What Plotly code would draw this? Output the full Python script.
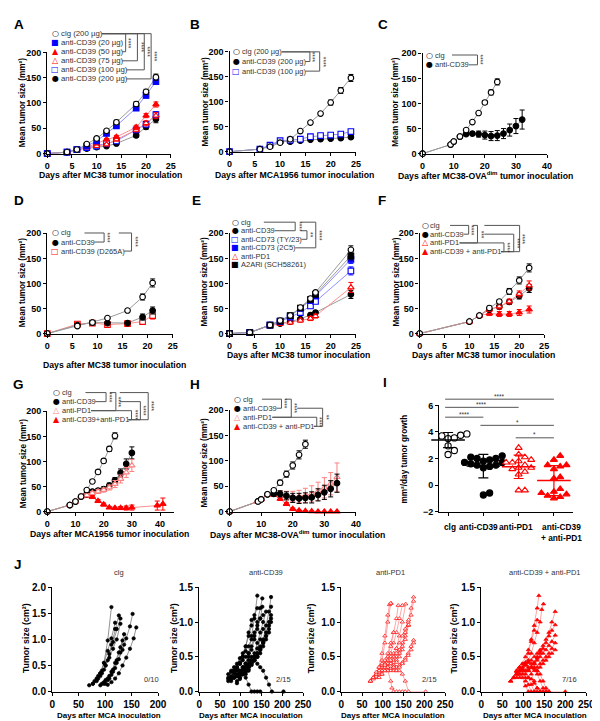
import statistics
import plotly.graph_objects as go

# ======================= DATA =======================
# Panel A  (MC38, anti-CD39 dose)
A_days = [0, 4, 6, 8, 10, 12, 14, 18, 20, 22]
A_clg = [0, 3, 8, 19, 30, 45, 62, 98, 122, 151]
A_clg_err = [0, 1, 1, 2, 2, 3, 4, 5, 5, 6]
A_cd39_20 = [0, 3, 8, 15, 25, 40, 55, 90, 115, 142]
A_cd39_20_err = [0, 1, 1, 2, 2, 3, 3, 4, 5, 5]
A_cd39_50 = [0, 3, 8, 13, 20, 28, 33, 52, 75, 97]
A_cd39_50_err = [0, 1, 1, 2, 2, 2, 3, 4, 4, 5]
A_cd39_75 = [0, 3, 8, 12, 15, 18, 28, 47, 60, 75]
A_cd39_75_err = [0, 1, 1, 2, 2, 2, 3, 4, 5, 6]
A_cd39_100 = [0, 3, 8, 12, 15, 20, 25, 47, 58, 77]
A_cd39_100_err = [0, 1, 1, 2, 2, 2, 3, 4, 5, 6]
A_cd39_200 = [0, 3, 8, 10, 13, 15, 20, 36, 53, 68]
A_cd39_200_err = [0, 1, 1, 1, 2, 2, 3, 4, 5, 7]

# Panel B  (MCA1956)
B_days = [0, 6, 8, 10, 12, 14, 16, 18, 20, 22, 24]
B_clg = [0, 5, 10, 18, 25, 41, 58, 76, 98, 122, 147]
B_clg_err = [0, 1, 1, 2, 2, 3, 3, 4, 5, 6, 7]
B_cd39_200 = [0, 5, 12, 20, 20, 22, 24, 25, 26, 27, 29]
B_cd39_200_err = [0, 1, 1, 2, 2, 2, 2, 2, 2, 3, 3]
B_cd39_100 = [0, 5, 13, 22, 23, 25, 30, 32, 33, 35, 40]
B_cd39_100_err = [0, 1, 1, 2, 2, 2, 3, 3, 3, 4, 4]

# Panel C  (MC38-OVAdim)
C_clg_days = [0, 9, 10, 12, 14, 16, 18, 20, 22, 24]
C_clg = [0, 18, 24, 34, 47, 63, 81, 102, 122, 143]
C_clg_err = [0, 2, 2, 2, 3, 3, 3, 4, 5, 6]
C_cd39_days = [0, 9, 10, 12, 14, 16, 18, 20, 22, 24, 26, 28, 30, 32]
C_cd39 = [0, 18, 24, 34, 39, 40, 39, 37, 35, 36, 40, 47, 55, 68]
C_cd39_err = [0, 2, 2, 2, 3, 4, 6, 8, 9, 10, 10, 12, 15, 19]

# Panel D  (MC38, Fc mutant)
D_days = [0, 6, 9, 12, 16, 19, 21]
D_clg = [0, 15, 22, 31, 46, 73, 101]
D_clg_err = [0, 2, 2, 2, 4, 6, 8]
D_cd39 = [0, 17, 22, 21, 21, 33, 46]
D_cd39_err = [0, 2, 2, 2, 3, 6, 7]
D_d265a = [0, 19, 21, 18, 20, 24, 36]
D_d265a_err = [0, 2, 2, 2, 3, 5, 7]

# Panel E  (MC38, adenosine pathway)
E_days = [0, 4, 8, 10, 12, 14, 16, 17, 24]
E_clg = [0, 2, 17, 26, 36, 52, 70, 82, 167]
E_clg_err = [0, 1, 2, 2, 3, 3, 4, 4, 8]
E_cd39 = [0, 2, 17, 20, 24, 29, 37, 42, 78]
E_cd39_err = [0, 1, 2, 2, 3, 3, 4, 4, 8]
E_ty23 = [0, 2, 17, 24, 33, 42, 55, 64, 125]
E_ty23_err = [0, 1, 2, 2, 3, 3, 4, 4, 8]
E_2c5 = [0, 2, 17, 25, 35, 50, 66, 75, 148]
E_2c5_err = [0, 1, 2, 2, 3, 3, 4, 4, 8]
E_pd1 = [0, 2, 16, 19, 22, 26, 30, 35, 92]
E_pd1_err = [0, 1, 2, 2, 3, 3, 4, 4, 10]
E_a2ar = [0, 2, 17, 25, 36, 51, 68, 78, 155]
E_a2ar_err = [0, 1, 2, 2, 3, 3, 4, 4, 8]

# Panel F  (MC38, anti-CD39 + anti-PD1)
F_days = [0, 10, 12, 14, 16, 18, 20, 22]
F_clg = [0, 24, 36, 51, 64, 84, 106, 131]
F_clg_err = [0, 2, 2, 4, 4, 6, 7, 8]
F_cd39 = [0, 24, 36, 48, 54, 63, 75, 90]
F_cd39_err = [0, 2, 2, 4, 5, 5, 6, 8]
F_pd1 = [0, 24, 36, 48, 54, 64, 79, 96]
F_pd1_err = [0, 2, 2, 4, 5, 5, 6, 9]
F_combo = [0, 24, 36, 40, 39, 39, 42, 48]
F_combo_err = [0, 2, 2, 4, 5, 5, 6, 7]

# Panel G  (MCA1956, combination)
G_clg_days = [0, 8, 10, 12, 14, 16, 18, 20, 22, 24]
G_clg = [0, 13, 20, 30, 43, 60, 79, 101, 125, 151]
G_clg_err = [0, 1, 2, 2, 3, 3, 4, 4, 5, 6]
G_days = [0, 8, 10, 12, 14, 16, 18, 20, 22, 24, 26, 28, 30]
G_cd39 = [0, 13, 20, 30, 35, 40, 42, 45, 52, 62, 77, 95, 117]
G_cd39_err = [0, 1, 2, 2, 3, 3, 3, 4, 5, 6, 8, 10, 12]
G_pd1 = [0, 13, 20, 30, 33, 37, 40, 43, 48, 55, 65, 78, 92]
G_pd1_err = [0, 1, 2, 2, 3, 3, 4, 4, 5, 7, 8, 10, 12]
G_combo_days = [0, 8, 10, 12, 14, 16, 18, 20, 22, 24, 26, 28, 30, 39, 41]
G_combo = [0, 13, 20, 30, 32, 29, 21, 14, 8, 7, 7, 7, 8, 12, 15]
G_combo_err = [0, 1, 2, 2, 3, 3, 3, 3, 2, 2, 3, 4, 5, 9, 12]

# Panel H  (MC38-OVAdim, combination)
H_clg_days = [0, 9, 10, 12, 14, 16, 18, 20, 22, 24]
H_clg = [0, 20, 24, 34, 42, 57, 74, 91, 112, 133]
H_clg_err = [0, 2, 2, 2, 3, 5, 6, 7, 8, 8]
H_days = [0, 9, 10, 12, 14, 16, 18, 20, 22, 24, 26, 28, 30, 32, 34]
H_cd39 = [0, 20, 24, 34, 35, 35, 31, 27, 26, 27, 28, 33, 38, 45, 56]
H_cd39_err = [0, 2, 2, 2, 4, 6, 8, 9, 10, 10, 11, 12, 14, 16, 18]
H_pd1 = [0, 20, 24, 34, 35, 35, 32, 30, 30, 32, 35, 40, 47, 55, 68]
H_pd1_err = [0, 2, 2, 2, 4, 6, 8, 10, 12, 14, 16, 18, 20, 22, 28]
H_combo = [0, 20, 24, 34, 33, 25, 15, 5, 2, 1, 0.5, 0, 0, 0, 0]
H_combo_err = [0, 2, 2, 2, 3, 3, 3, 2, 1, 1, 0, 0, 0, 0, 0]

# Panel I  (growth rate, mm2/day)
I_categories = ["clg", "anti-CD39", "anti-PD1", "anti-CD39<br>+ anti-PD1"]
I_clg = [3.9, 3.8, 3.75, 3.7, 3.85, 3.5, 3.55, 2.95, 2.6, 2.3]
I_cd39 = [2.2, 2.1, 2.0, 1.9, 1.8, 1.7, 1.6, 1.5, 1.5, 1.4, 1.3, 1.7, 2.0, -0.75, -0.6]
I_pd1 = [2.8, 2.3, 2.1, 1.9, 1.8, 1.7, 1.7, 1.5, 1.3, 1.2, 1.0, 1.3, 0.8, -0.4, -0.4]
I_combo = [2.2, 1.9, 1.5, 1.5, 1.4, 1.2, 0.6, 0.5, -0.3, -0.5, -0.6, -0.6, -0.7, -0.8, -0.9, -1.0]

# Panel J  (individual MCA-induced tumours, cm2)
J_clg_days = [[70, 77, 84, 91, 98, 105, 112], [77, 84, 91, 98, 105, 112, 119, 126],
              [80, 87, 94, 101, 108, 115, 122, 129], [84, 91, 98, 105, 112, 119],
              [98, 105, 112, 119, 126, 133, 140, 147, 152], [105, 112, 119, 126, 133, 140, 147, 154, 159],
              [87, 94, 101, 108, 115, 122, 129], [94, 101, 108, 115, 122, 129, 136],
              [91, 98, 105, 112, 119, 126, 133], [101, 108, 115, 122, 129, 136]]
J_clg_size = [[0.12, 0.15, 0.22, 0.35, 0.55, 0.98, 1.62], [0.15, 0.2, 0.3, 0.42, 0.6, 0.9, 1.2, 1.46],
              [0.2, 0.25, 0.35, 0.5, 0.72, 0.95, 1.2, 1.4], [0.25, 0.35, 0.55, 0.78, 1.02, 1.32],
              [0.15, 0.22, 0.32, 0.45, 0.62, 0.8, 1.02, 1.25, 1.49], [0.13, 0.18, 0.25, 0.35, 0.5, 0.65, 0.82, 1.02, 1.23],
              [0.3, 0.4, 0.5, 0.65, 0.82, 1.0, 1.3], [0.15, 0.22, 0.3, 0.42, 0.6, 0.85, 1.1],
              [0.12, 0.18, 0.25, 0.38, 0.55, 0.75, 0.98], [0.15, 0.25, 0.38, 0.55, 0.75, 0.9]]

J_cd39_days = [[70, 77, 84, 91, 98, 105, 112, 119, 126, 133, 140],
               [70, 77, 84, 91, 98, 105, 112, 119, 126],
               [77, 84, 91, 98, 105, 112, 119, 126, 133, 140, 147, 154, 161, 168, 173],
               [84, 91, 98, 105, 112, 119, 126, 133, 140, 147, 152],
               [91, 98, 105, 112, 119, 126, 133, 140, 147, 154, 161, 168, 173],
               [98, 105, 112, 119, 126, 133, 140, 147, 154, 161, 168, 173],
               [70, 77, 84, 91, 98, 105, 112, 119, 126, 133, 140, 147, 152],
               [84, 91, 98, 105, 112, 119, 126, 133, 140, 147, 154],
               [105, 112, 119, 126, 133, 140, 147, 154, 161, 168, 173],
               [112, 119, 126, 133, 140, 147, 154, 161, 168, 173],
               [77, 84, 91, 98, 105, 112, 119, 126, 133, 140, 147],
               [98, 105, 112, 119, 126, 133, 140, 147, 154, 161, 168, 175, 203],
               [70, 77, 84, 91, 98, 105, 112, 119, 126, 133, 140],
               [91, 98, 105, 112, 119, 126, 133, 140, 147, 154, 161],
               [112, 119, 126, 133, 140, 147, 154]]
J_cd39_size = [[0.15, 0.18, 0.2, 0.22, 0.25, 0.3, 0.4, 0.55, 0.8, 1.05, 1.38],
               [0.18, 0.22, 0.28, 0.33, 0.4, 0.5, 0.65, 0.85, 1.03],
               [0.15, 0.2, 0.22, 0.25, 0.28, 0.32, 0.35, 0.4, 0.45, 0.5, 0.6, 0.75, 0.95, 1.15, 1.36],
               [0.2, 0.25, 0.3, 0.35, 0.4, 0.5, 0.6, 0.75, 0.9, 1.05, 1.22],
               [0.15, 0.2, 0.25, 0.28, 0.32, 0.38, 0.45, 0.5, 0.6, 0.7, 0.85, 1.0, 1.22],
               [0.2, 0.25, 0.3, 0.35, 0.42, 0.5, 0.55, 0.62, 0.7, 0.8, 0.95, 1.1],
               [0.2, 0.28, 0.3, 0.35, 0.4, 0.45, 0.5, 0.55, 0.65, 0.8, 1.0, 1.2, 1.34],
               [0.3, 0.35, 0.42, 0.5, 0.58, 0.65, 0.75, 0.85, 0.95, 1.05, 1.1],
               [0.3, 0.35, 0.38, 0.42, 0.45, 0.5, 0.55, 0.65, 0.75, 0.85, 1.05],
               [0.35, 0.4, 0.45, 0.5, 0.55, 0.65, 0.72, 0.8, 0.9, 1.0],
               [0.2, 0.25, 0.3, 0.28, 0.25, 0.2, 0.1, 0, 0, 0, 0],
               [0.3, 0.35, 0.4, 0.45, 0.5, 0.45, 0.4, 0.35, 0.3, 0.2, 0.1, 0, 0],
               [0.25, 0.3, 0.35, 0.4, 0.48, 0.55, 0.65, 0.8, 0.95, 1.1, 1.2],
               [0.12, 0.18, 0.25, 0.3, 0.38, 0.45, 0.55, 0.7, 0.85, 1.0, 1.15],
               [0.25, 0.3, 0.4, 0.5, 0.62, 0.75, 0.9]]

J_pd1_days = [[70, 77, 84, 91, 98, 105, 112, 116, 120], [77, 84, 91, 98, 105, 112, 119],
              [84, 91, 98, 105, 112, 119, 126, 133, 137], [91, 98, 105, 112, 119, 126, 133, 140, 147],
              [98, 105, 112, 119, 126, 133, 140, 147, 155], [105, 112, 119, 126, 133, 140, 147, 154, 161, 168, 174],
              [112, 119, 126, 133, 140, 147, 154, 161, 168, 174], [98, 105, 112, 119, 126, 133, 140, 147, 154, 162],
              [119, 126, 133, 140, 147, 154, 162], [126, 133, 140, 147, 154, 161, 168, 174],
              [133, 140, 147, 154, 161, 168, 174], [70, 77, 84, 91, 98, 105, 112, 119, 126, 133, 140],
              [84, 91, 98, 105, 112, 119, 126],
              [70, 77, 84, 91, 98, 105, 112, 119, 122, 126, 133, 140, 147, 154],
              [91, 98, 105, 112, 119, 126, 133, 140, 147, 154, 162, 203]]
J_pd1_size = [[0.15, 0.2, 0.25, 0.35, 0.55, 0.8, 1.1, 1.25, 1.27], [0.18, 0.22, 0.3, 0.45, 0.7, 1.0, 1.27],
              [0.2, 0.25, 0.3, 0.4, 0.5, 0.65, 0.85, 1.05, 1.24], [0.3, 0.35, 0.4, 0.45, 0.55, 0.7, 0.85, 1.05, 1.24],
              [0.25, 0.3, 0.35, 0.42, 0.5, 0.62, 0.8, 1.0, 1.26], [0.3, 0.35, 0.4, 0.45, 0.5, 0.6, 0.7, 0.85, 1.0, 1.2, 1.36],
              [0.3, 0.33, 0.38, 0.45, 0.55, 0.65, 0.8, 0.95, 1.1, 1.3], [0.35, 0.4, 0.45, 0.5, 0.55, 0.62, 0.7, 0.8, 0.9, 1.03],
              [0.3, 0.35, 0.42, 0.5, 0.6, 0.75, 0.96], [0.3, 0.35, 0.38, 0.42, 0.48, 0.55, 0.65, 0.74],
              [0.3, 0.35, 0.4, 0.45, 0.52, 0.6, 0.7], [0.15, 0.2, 0.22, 0.28, 0.3, 0.35, 0.4, 0.45, 0.5, 0.55, 0.6],
              [0.25, 0.3, 0.38, 0.45, 0.55, 0.7, 0.85],
              [0.15, 0.2, 0.28, 0.35, 0.4, 0.38, 0.3, 0.15, 0.05, 0, 0, 0, 0, 0],
              [0.2, 0.25, 0.3, 0.35, 0.4, 0.35, 0.3, 0.3, 0.25, 0.15, 0, 0]]

J_combo_days = [[84, 91, 98, 105, 112, 119, 126, 133, 137], [91, 98, 105, 112, 119, 126, 133, 140, 144, 148],
                [84, 91, 98, 105, 112, 119, 126, 133], [112, 119, 126, 133, 140, 147, 154, 161, 168, 176],
                [105, 112, 119, 126, 133, 140, 147, 154, 161, 168, 176], [119, 126, 133, 140, 147, 154, 161, 168, 176],
                [126, 133, 140, 147, 154, 161, 168, 176], [133, 140, 147, 154, 161, 168, 176],
                [70, 77, 84, 91, 98, 105, 112, 119, 126, 133, 140], [70, 77, 84, 91, 98, 105, 112],
                [77, 84, 91, 98, 105, 112, 119, 126], [84, 91, 98, 105, 112, 119, 126, 133, 140],
                [70, 77, 84, 91, 98, 105, 112, 119, 126, 133, 140, 147, 154],
                [91, 98, 105, 112, 119, 126, 133, 140, 147, 154, 161, 200],
                [98, 105, 112, 119, 126, 133, 140, 147, 154, 161], [105, 112, 119, 126, 133, 140, 147, 154, 161]]
J_combo_size = [[0.2, 0.25, 0.3, 0.4, 0.55, 0.75, 0.95, 1.2, 1.38], [0.25, 0.3, 0.38, 0.45, 0.55, 0.7, 0.85, 1.0, 1.18, 1.26],
                [0.3, 0.35, 0.4, 0.5, 0.6, 0.72, 0.88, 1.03], [0.3, 0.35, 0.42, 0.5, 0.58, 0.66, 0.75, 0.85, 1.0, 1.15],
                [0.25, 0.3, 0.35, 0.4, 0.48, 0.55, 0.62, 0.7, 0.8, 0.88, 0.96], [0.35, 0.4, 0.45, 0.5, 0.55, 0.6, 0.66, 0.72, 0.81],
                [0.3, 0.35, 0.4, 0.45, 0.5, 0.55, 0.62, 0.7], [0.3, 0.35, 0.4, 0.45, 0.5, 0.55, 0.6],
                [0.15, 0.2, 0.25, 0.3, 0.35, 0.38, 0.42, 0.45, 0.5, 0.55, 0.6], [0.15, 0.2, 0.25, 0.3, 0.2, 0.08, 0],
                [0.2, 0.3, 0.35, 0.3, 0.2, 0.1, 0, 0], [0.25, 0.3, 0.32, 0.3, 0.2, 0.1, 0, 0, 0],
                [0.15, 0.2, 0.28, 0.35, 0.4, 0.42, 0.35, 0.25, 0.15, 0.05, 0, 0, 0],
                [0.2, 0.25, 0.3, 0.32, 0.35, 0.33, 0.3, 0.25, 0.15, 0.05, 0, 0],
                [0.3, 0.38, 0.42, 0.4, 0.35, 0.25, 0.15, 0.05, 0, 0], [0.15, 0.2, 0.18, 0.12, 0.05, 0, 0, 0, 0]]

J_titles = ["clg", "anti-CD39", "anti-PD1", "anti-CD39 + anti-PD1"]
J_fractions = ["0/10", "2/15", "2/15", "7/16"]

# ======================= STYLE / HELPERS =======================
W, H = 600, 721
FONT = "Liberation Sans"
SYMF = "DejaVu Sans"
BLACK = "#000000"
GREYL = "#9a9a9a"
BLUE = "#0000ff"
BLUEL = "#8f8fff"
RED = "#ff0000"
REDL = "#ff8f8f"
PINK = "#ff8080"
TXT = "#333333"
MS = 5.6     # marker size in growth curves


def fx(p):
    return p / W


def fy(p):
    return 1 - p / H


layout = dict(width=W, height=H, margin=dict(l=0, r=0, t=0, b=0),
              paper_bgcolor="white", plot_bgcolor="white", showlegend=False,
              font=dict(family=FONT, color="black"))
annotations, shapes = [], []
line_traces, marker_traces = [], []
AX = {}


def make_axes(key, xpx, ypx, xr, yr, xt, yt, tfs=9, yfmt=None, xlabels=True):
    n = len(AX) + 1
    sx = "" if n == 1 else str(n)
    common = dict(showline=True, linecolor="black", linewidth=1.4, ticks="outside",
                  ticklen=3, tickwidth=1.4, tickcolor="black", showgrid=False,
                  zeroline=False, fixedrange=True, tickmode="array",
                  tickfont=dict(family=FONT, size=tfs, color="black", weight="bold"))
    xa = dict(common, domain=[fx(xpx[0]), fx(xpx[1])], range=xr, anchor="y" + sx,
              tickvals=xt, showticklabels=xlabels)
    ya = dict(common, domain=[fy(ypx[1]), fy(ypx[0])], range=yr, anchor="x" + sx, tickvals=yt)
    if yfmt:
        ya["tickformat"] = yfmt
    layout["xaxis" + sx] = xa
    layout["yaxis" + sx] = ya
    AX[key] = ("x" + sx, "y" + sx)


def text(x, y, s, fs=8, bold=False, color="black", xanchor="center", yanchor="middle",
         angle=0, family=FONT):
    annotations.append(dict(xref="paper", yref="paper", x=fx(x), y=fy(y), text=s,
                            showarrow=False, xanchor=xanchor, yanchor=yanchor,
                            textangle=angle, borderpad=0,
                            font=dict(family=family, size=fs, color=color,
                                      weight="bold" if bold else "normal")))


def series(key, x, y, err, symbol, edge, fill, linecol, size=MS):
    xa, ya = AX[key]
    line_traces.append(go.Scatter(x=x, y=y, mode="lines", xaxis=xa, yaxis=ya,
                                  line=dict(color=linecol, width=1), hoverinfo="skip",
                                  cliponaxis=False))
    marker_traces.append(go.Scatter(x=x, y=y, mode="markers", xaxis=xa, yaxis=ya,
                                    marker=dict(symbol=symbol, size=size, color=fill,
                                                line=dict(color=edge, width=1.1)),
                                    error_y=dict(type="data", array=err, visible=True,
                                                 color=edge, thickness=1.0, width=2.5),
                                    cliponaxis=False))


# Arial / Liberation Sans advance widths (per 1000 em)
CW = {" ": 278, "(": 333, ")": 333, "+": 584, "-": 333, "/": 278, "µ": 576,
      "a": 556, "b": 556, "c": 500, "d": 556, "e": 556, "f": 278, "g": 556, "h": 556,
      "i": 222, "j": 222, "k": 500, "l": 222, "m": 833, "n": 556, "o": 556, "p": 556,
      "q": 556, "r": 333, "s": 500, "t": 278, "u": 556, "v": 500, "w": 722, "x": 500,
      "y": 500, "z": 500, "A": 667, "C": 722, "D": 722, "P": 667, "R": 722, "S": 667,
      "H": 722, "T": 611, "Y": 667}


def tw(s, fs):
    return fs * sum(CW.get(c, 556) for c in s) / 1000.0


def legend(entries, xsym, xtext, y0, dy, fs=7.5, symfs=8):
    rows = []
    for i, (sym, col, label) in enumerate(entries):
        y = y0 + i * dy
        text(xsym, y, sym, fs=symfs, color=col, family=SYMF)
        text(xtext, y, label, fs=fs, color=TXT, xanchor="left")
        rows.append((y, xtext + tw(label, fs) + 1.5))
    return rows


def bracket(rows, i, j, xv, stars, xs_top=None, xs_bot=None, sdx=3.5):
    yt, xte = rows[i]
    yb, xbe = rows[j]
    xt = xte if xs_top is None else xs_top
    xb = xbe if xs_bot is None else xs_bot
    path = (f"M {fx(xt)},{fy(yt)} L {fx(xv)},{fy(yt)} "
            f"L {fx(xv)},{fy(yb)} L {fx(xb)},{fy(yb)}")
    shapes.append(dict(type="path", xref="paper", yref="paper", path=path,
                       line=dict(color="#555555", width=1)))
    text(xv + sdx, (yt + yb) / 2 + 0.5, stars, fs=6.5, color=TXT, angle=90)


YT = "Mean tumor size (mm²)"
YFS = 8.2     # y-title font
XFS = 8.7     # x-title font

# ======================= PANELS A-H =======================
t25 = [0, 5, 10, 15, 20, 25]
t40 = [0, 10, 20, 30, 40]
t200 = [0, 50, 100, 150, 200]
make_axes("A", (37, 163), (39, 142), [0, 25], [0, 200], t25, t200)
make_axes("B", (223, 352), (38, 140), [0, 25], [0, 200], t25, t200)
make_axes("C", (420, 547), (40, 142), [0, 40], [0, 200], t40, t200)
make_axes("D", (37, 165), (223, 325), [0, 25], [0, 200], t25, t200)
make_axes("E", (223, 352), (223, 325), [0, 25], [0, 200], t25, t200)
make_axes("F", (417, 544), (223, 325), [0, 25], [0, 200], t25, t200)
make_axes("G", (37, 166.5), (404, 506), [0, 45], [0, 200], t40, t200)
make_axes("H", (223, 352), (403, 506), [0, 40], [0, 200], t40, t200)

# A
series("A", A_days, A_cd39_200, A_cd39_200_err, "circle", BLACK, BLACK, GREYL)
series("A", A_days, A_cd39_100, A_cd39_100_err, "square", BLUE, "white", BLUEL)
series("A", A_days, A_cd39_75, A_cd39_75_err, "triangle-up", RED, "white", REDL)
series("A", A_days, A_cd39_50, A_cd39_50_err, "triangle-up", RED, RED, REDL)
series("A", A_days, A_cd39_20, A_cd39_20_err, "square", BLUE, BLUE, BLUEL)
series("A", A_days, A_clg, A_clg_err, "circle", BLACK, "white", GREYL)
# B
series("B", B_days, B_cd39_200, B_cd39_200_err, "circle", BLACK, BLACK, GREYL)
series("B", B_days, B_cd39_100, B_cd39_100_err, "square", BLUE, "white", BLUEL)
series("B", B_days, B_clg, B_clg_err, "circle", BLACK, "white", GREYL)
# C
series("C", C_cd39_days, C_cd39, C_cd39_err, "circle", BLACK, BLACK, GREYL)
series("C", C_clg_days, C_clg, C_clg_err, "circle", BLACK, "white", GREYL)
# D
series("D", D_days, D_d265a, D_d265a_err, "square", RED, "white", REDL)
series("D", D_days, D_cd39, D_cd39_err, "circle", BLACK, BLACK, GREYL)
series("D", D_days, D_clg, D_clg_err, "circle", BLACK, "white", GREYL)
# E
series("E", E_days, E_cd39, E_cd39_err, "circle", BLACK, BLACK, GREYL)
series("E", E_days, E_pd1, E_pd1_err, "triangle-up", RED, "white", REDL)
series("E", E_days, E_ty23, E_ty23_err, "square", BLUE, "white", BLUEL)
series("E", E_days, E_2c5, E_2c5_err, "square", BLUE, BLUE, BLUEL)
series("E", E_days, E_a2ar, E_a2ar_err, "square", BLACK, BLACK, GREYL)
series("E", E_days, E_clg, E_clg_err, "circle", BLACK, "white", GREYL)
# F
series("F", F_days, F_combo, F_combo_err, "triangle-up", RED, RED, REDL)
series("F", F_days, F_cd39, F_cd39_err, "circle", BLACK, BLACK, GREYL)
series("F", F_days, F_pd1, F_pd1_err, "triangle-up", RED, "white", REDL)
series("F", F_days, F_clg, F_clg_err, "circle", BLACK, "white", GREYL)
# G
series("G", G_combo_days, G_combo, G_combo_err, "triangle-up", RED, RED, REDL)
series("G", G_days, G_cd39, G_cd39_err, "circle", BLACK, BLACK, GREYL)
series("G", G_days, G_pd1, G_pd1_err, "triangle-up", PINK, "white", REDL)
series("G", G_clg_days, G_clg, G_clg_err, "circle", BLACK, "white", GREYL)
# H
series("H", H_days, H_combo, H_combo_err, "triangle-up", RED, RED, REDL)
series("H", H_days, H_pd1, H_pd1_err, "triangle-up", PINK, "white", REDL)
series("H", H_days, H_cd39, H_cd39_err, "circle", BLACK, BLACK, GREYL)
series("H", H_clg_days, H_clg, H_clg_err, "circle", BLACK, "white", GREYL)

# axis titles A-H
for (xt_, yc, xc, xy, lab) in [
    (12, 90, 102, 164, "Days after MC38 tumor inoculation"),
    (198, 90, 289, 164, "Days after MCA1956 tumor inoculation"),
    (392, 90, 484, 164, "Days after MC38-OVA<sup>dim</sup> tumor inoculation"),
    (12, 273, 106, 357, "Days after MC38 tumor inoculation"),
    (197, 273, 293, 347, "Days after MC38 tumor inoculation"),
    (393, 273, 482, 347, "Days after MC38 tumor inoculation"),
    (13, 457, 101, 528.5, "Days after MCA1956 tumor inoculation"),
    (197, 457, 292, 528.5, "Days after MC38-OVA<sup>dim</sup> tumor inoculation"),
]:
    text(xt_, yc, YT, fs=YFS, bold=True, angle=-90)
    text(xc, xy, lab, fs=XFS, bold=True)

# legends + brackets
O, F_, S, Sq, T, To = "○", "●", "■", "□", "▲", "△"
rA = legend([(O, BLACK, "clg (200 µg)"), (S, BLUE, "anti-CD39 (20 µg)"),
             (T, RED, "anti-CD39 (50 µg)"), (To, RED, "anti-CD39 (75 µg)"),
             (Sq, BLUE, "anti-CD39 (100 µg)"), (F_, BLACK, "anti-CD39 (200 µg)")],
            45, 50, 20, 9.2, fs=7.8)
bracket(rA, 0, 2, 117, "****")
bracket(rA, 0, 3, 129, "****")
bracket(rA, 0, 4, 136, "****")
bracket(rA, 0, 5, 143, "****")

rB = legend([(O, BLACK, "clg (200 µg)"), (F_, BLACK, "anti-CD39 (200 µg)"),
             (Sq, BLUE, "anti-CD39 (100 µg)")], 230, 235, 38.5, 9.8)
bracket(rB, 0, 1, 305, "****")
bracket(rB, 0, 2, 315, "****")

rC = legend([(O, BLACK, "clg"), (F_, BLACK, "anti-CD39")], 427, 432, 41.7, 10)
bracket(rC, 0, 1, 476, "****", xs_top=450)

rD = legend([(O, BLACK, "clg"), (F_, BLACK, "anti-CD39"), (Sq, RED, "anti-CD39 (D265A)")],
            45, 50, 222.7, 9.2)
bracket(rD, 0, 1, 95, "****", xs_top=75)
bracket(rD, 0, 2, 123, "****", xs_top=110)

rE = legend([(O, BLACK, "clg"), (F_, BLACK, "anti-CD39"), (Sq, BLUE, "anti-CD73 (TY/23)"),
             (S, BLUE, "anti-CD73 (2C5)"), (To, RED, "anti-PD1"), (S, BLACK, "A2ARi (SCH58261)")],
            229, 234, 211.7, 8.7)
bracket(rE, 0, 1, 290, "****", xs_top=258)
bracket(rE, 1, 2, 302, "**", xs_top=296)
bracket(rE, 0, 3, 311, "****", xs_top=296)

rF = legend([(O, BLACK, "clg"), (F_, BLACK, "anti-CD39"), (To, RED, "anti-PD1"),
             (T, RED, "anti-CD39 + anti-PD1")], 423, 427, 215, 8.9)
bracket(rF, 0, 1, 467, "****", xs_top=448)
bracket(rF, 0, 2, 476, "***", xs_top=471)
bracket(rF, 2, 3, 503, "****")
bracket(rF, 1, 3, 513, "****", xs_top=483)
bracket(rF, 0, 3, 519, "****", xs_top=483)

rG = legend([(O, BLACK, "clg"), (F_, BLACK, "anti-CD39"), (To, PINK, "anti-PD1"),
             (T, RED, "anti-CD39+anti-PD1")], 46, 51, 385, 9.2)
bracket(rG, 0, 1, 97, "****", xs_top=76)
bracket(rG, 0, 2, 107, "****", xs_top=101)
bracket(rG, 2, 3, 123, "****")
bracket(rG, 1, 3, 132, "****", xs_top=111)
bracket(rG, 0, 3, 140, "****", xs_top=111)

rH = legend([(O, BLACK, "clg"), (F_, BLACK, "anti-CD39"), (To, PINK, "anti-PD1"),
             (T, RED, "anti-CD39 + anti-PD1")], 231, 236, 391.7, 9.2)
bracket(rH, 0, 1, 276, "****", xs_top=256)
bracket(rH, 0, 2, 286, "****", xs_top=280)
bracket(rH, 2, 3, 312, "****")
bracket(rH, 1, 3, 318, "**", xs_top=292)

# ======================= PANEL I =======================
I_X0, I_STEP = 446.0, 36.0           # pixel position of first group, group spacing
I_L, I_R = 437.0, 573.0
make_axes("I", (I_L, I_R), (398, 506),
          [-(I_X0 - I_L) / I_STEP, (I_R - I_X0) / I_STEP], [-2, 6], [0, 1, 2, 3],
          [-2, 0, 2, 4, 6], xlabels=False)
xI, yI = AX["I"]
XU, YU = I_STEP, 108 / 8.0


def swarm(vals, d=6.4, step=3.2):
    order = sorted(range(len(vals)), key=lambda k: vals[k])
    placed, offs = [], [0.0] * len(vals)
    for k in order:
        yp = vals[k] * YU
        chosen = 0.0
        for m in range(0, 14):
            cands = [0.0] if m == 0 else [m * step, -m * step]
            hit = None
            for c in cands:
                if all(((c - px_) ** 2 + (yp - py_) ** 2) ** 0.5 >= d for px_, py_ in placed):
                    hit = c
                    break
            if hit is not None:
                chosen = hit
                break
        placed.append((chosen, yp))
        offs[k] = chosen / XU
    return offs


I_groups = [(I_clg, "circle", BLACK, "white"), (I_cd39, "circle", BLACK, BLACK),
            (I_pd1, "triangle-up", RED, "white"), (I_combo, "triangle-up", RED, RED)]
for gi, (vals, sym, edge, fill) in enumerate(I_groups):
    offs = swarm(vals)
    marker_traces.append(go.Scatter(x=[gi + o for o in offs], y=vals, mode="markers",
                                    xaxis=xI, yaxis=yI, cliponaxis=False,
                                    marker=dict(symbol=sym, size=6.2, color=fill,
                                                line=dict(color=edge, width=1.1))))
    m = statistics.mean(vals)
    sd = statistics.stdev(vals)
    marker_traces.append(go.Scatter(x=[gi], y=[m], mode="markers", xaxis=xI, yaxis=yI,
                                    cliponaxis=False,
                                    marker=dict(symbol="line-ew", size=24,
                                                line=dict(color=edge, width=1.4)),
                                    error_y=dict(type="data", array=[sd], color=edge,
                                                 thickness=1.2, width=5)))

text(401, 452, "mm²/day tumor growth", fs=YFS, bold=True, angle=-90)
for (lab, cx) in zip(I_categories, [448, 477, 515, 562]):
    text(cx, 516, lab, fs=8.3, bold=True, yanchor="top")
# significance lines in I
for (c0, c1, yy, st) in [(0, 3, 391.7, "****"), (0, 2, 400, "****"), (0, 1, 410, "****"),
                         (1, 3, 418.3, "*"), (2, 3, 431, "*")]:
    xa0 = I_X0 + c0 * I_STEP - 3
    xa1 = I_X0 + c1 * I_STEP
    shapes.append(dict(type="line", xref="paper", yref="paper", x0=fx(xa0), x1=fx(xa1),
                       y0=fy(yy), y1=fy(yy), line=dict(color="#555555", width=1)))
    text((xa0 + xa1) / 2, yy - 3.2, st, fs=6.5, color=TXT)

# ======================= PANEL J =======================
tJ1 = [0, 50, 100, 150, 200]
tJ = [0, 50, 100, 150, 200, 250]
make_axes("J1", (42, 150), (583, 689), [0, 200], [0, 2.0], tJ1, [0, 0.5, 1.0, 1.5, 2.0], tfs=10, yfmt=".1f")
make_axes("J2", (192, 298), (583, 689), [0, 250], [0, 1.5], tJ, [0, 0.5, 1.0, 1.5], tfs=10, yfmt=".1f")
make_axes("J3", (337, 443), (583, 689), [0, 250], [0, 1.5], tJ, [0, 0.5, 1.0, 1.5], tfs=10, yfmt=".1f")
make_axes("J4", (480, 587), (583, 689), [0, 250], [0, 1.5], tJ, [0, 0.5, 1.0, 1.5], tfs=10, yfmt=".1f")


def spaghetti(key, dl, sl, symbol, edge, fill, linecol, size=3.4):
    xa, ya = AX[key]
    for d, s in zip(dl, sl):
        line_traces.append(go.Scatter(x=d, y=s, mode="lines", xaxis=xa, yaxis=ya,
                                      line=dict(color=linecol, width=0.8), cliponaxis=False))
        marker_traces.append(go.Scatter(x=d, y=s, mode="markers", xaxis=xa, yaxis=ya,
                                        cliponaxis=False,
                                        marker=dict(symbol=symbol, size=size, color=fill,
                                                    line=dict(color=edge, width=0.7))))


spaghetti("J1", J_clg_days, J_clg_size, "circle", BLACK, BLACK, "#777777")
spaghetti("J2", J_cd39_days, J_cd39_size, "circle", BLACK, BLACK, "#777777")
spaghetti("J3", J_pd1_days, J_pd1_size, "triangle-up", RED, "white", REDL, size=3.8)
spaghetti("J4", J_combo_days, J_combo_size, "triangle-up", RED, RED, REDL, size=3.8)

for (yx, xc, tx, fxp, k) in [(16, 100, 110, 143, 0), (167, 245, 260, 278, 1),
                             (307, 390, 387, 427, 2), (452, 535, 545, 570, 3)]:
    text(yx, 635, "Tumor size (cm²)", fs=8.8, bold=True, angle=-90)
    text(xc, 713, "Days after MCA inoculation", fs=8, bold=True)
    text(tx, 568, J_titles[k], fs=7.5, color=TXT)
    text(fxp, 677, J_fractions[k], fs=7.5, color=TXT)

# panel letters
for (lx, ly, L) in [(8, 11, "A"), (188, 11, "B"), (380, 11, "C"),
                    (8, 190, "D"), (189, 190, "E"), (379, 190, "F"),
                    (8, 377, "G"), (188, 377, "H"), (382, 375, "I"), (7, 560, "J")]:
    text(lx, ly, L, fs=13.5, bold=True)

layout["annotations"] = annotations
layout["shapes"] = shapes
fig = go.Figure(data=line_traces + marker_traces, layout=layout)
fig.write_html("out.html")
